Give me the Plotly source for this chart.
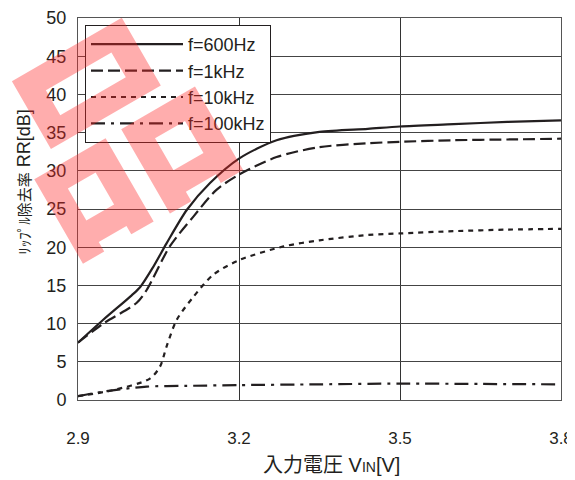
import plotly.graph_objects as go

# ---- data ----
x_600 = [2.9, 2.947, 3.0, 3.016, 3.04, 3.065, 3.103, 3.146, 3.2, 3.27, 3.35, 3.44, 3.5, 3.6, 3.7, 3.8]
y_600 = [7.5, 10.5, 13.7, 14.8, 17.4, 20.5, 24.9, 28.4, 31.6, 34.0, 35.1, 35.5, 35.8, 36.1, 36.4, 36.6]

x_1k = [2.9, 2.947, 3.009, 3.028, 3.071, 3.115, 3.158, 3.2, 3.27, 3.35, 3.44, 3.5, 3.6, 3.7, 3.8]
y_1k = [7.5, 10.0, 12.7, 14.4, 20.1, 24.0, 27.5, 29.5, 31.8, 33.1, 33.6, 33.8, 34.0, 34.1, 34.2]

x_10k = [2.9, 2.966, 3.034, 3.053, 3.065, 3.084, 3.115, 3.152, 3.2, 3.283, 3.35, 3.44, 3.5, 3.6, 3.7, 3.8]
y_10k = [0.5, 1.3, 2.8, 4.4, 7.0, 10.5, 13.5, 16.4, 18.3, 20.1, 20.9, 21.6, 21.8, 22.1, 22.3, 22.4]

x_100k = [2.9, 2.947, 3.028, 3.1, 3.2, 3.35, 3.5, 3.65, 3.8]
y_100k = [0.5, 1.1, 1.75, 1.85, 1.95, 2.05, 2.15, 2.1, 2.05]

names = ["f=600Hz", "f=1kHz", "f=10kHz", "f=100kHz"]
x_ticks = [2.9, 3.2, 3.5, 3.8]
x_tick_text = ["2.9", "3.2", "3.5", "3.8"]

FONT = "Liberation Sans, Arial, Noto Sans CJK JP, sans-serif"
INK = "#231f20"

series = [
    (x_600, y_600, "solid"),
    (x_1k, y_1k, "12px,5px"),
    (x_10k, y_10k, "5px,5px"),
    (x_100k, y_100k, "14px,6px,3px,6px"),
]

fig = go.Figure()
for (xs, ys, dash), nm in zip(series, names):
    fig.add_trace(go.Scatter(
        x=xs, y=ys, name=nm, mode="lines",
        line=dict(color=INK, width=2.2, dash=dash, shape="spline", smoothing=0.8),
    ))

# page body has an 8px margin, so the figure is sized to fit the 575x480 window
fig.update_layout(
    width=567, height=472,
    margin=dict(l=70, r=14, t=10, b=80),
    paper_bgcolor="white", plot_bgcolor="white",
    font=dict(family=FONT, size=18, color=INK),
    showlegend=True,
    legend=dict(
        x=0.0145, y=0.9817, xanchor="left", yanchor="top",
        bgcolor="white", bordercolor=INK, borderwidth=1,
        font=dict(size=18, family=FONT, color=INK),
        itemwidth=92, tracegroupgap=0,
    ),
    xaxis=dict(
        range=[2.9, 3.8], tickvals=x_ticks, ticktext=x_tick_text,
        showgrid=True, gridcolor="#333", gridwidth=1,
        showline=True, linecolor="#555", linewidth=1, mirror=True,
        ticks="outside", ticklen=23, tickcolor="rgba(0,0,0,0)",
        zeroline=False, automargin=False,
        tickfont=dict(size=17),
    ),
    yaxis=dict(
        range=[0, 50], dtick=5,
        showgrid=True, gridcolor="#444", gridwidth=1,
        showline=True, linecolor="#555", linewidth=1, mirror=True,
        ticks="outside", ticklen=7, tickcolor="rgba(0,0,0,0)",
        zeroline=False, automargin=False,
        tickfont=dict(size=18),
    ),
)

# axis titles
fig.add_annotation(
    text="入力電圧 V<span style='font-size:14px'>IN</span>[V]",
    xref="paper", yref="paper", x=0.524, y=-0.170,
    xanchor="center", yanchor="middle", showarrow=False,
    font=dict(size=20, family=FONT, color=INK),
)
fig.add_annotation(
    text="<span style='font-size:15px'>ﾘｯﾌﾟﾙ除去率</span> RR[dB]",
    xref="paper", yref="paper", x=-0.112, y=0.571,
    xanchor="center", yanchor="middle", showarrow=False, textangle=-90,
    font=dict(size=18, family=FONT, color=INK),
)

# watermark
fig.add_annotation(
    text="<b>品</b>", xref="paper", yref="paper", x=0.06, y=0.735,
    xanchor="center", yanchor="middle",
    showarrow=False, textangle=-30,
    font=dict(size=215, color="rgba(255,40,40,0.38)", family="Noto Sans CJK JP"),
)

fig.write_html("out.html")
